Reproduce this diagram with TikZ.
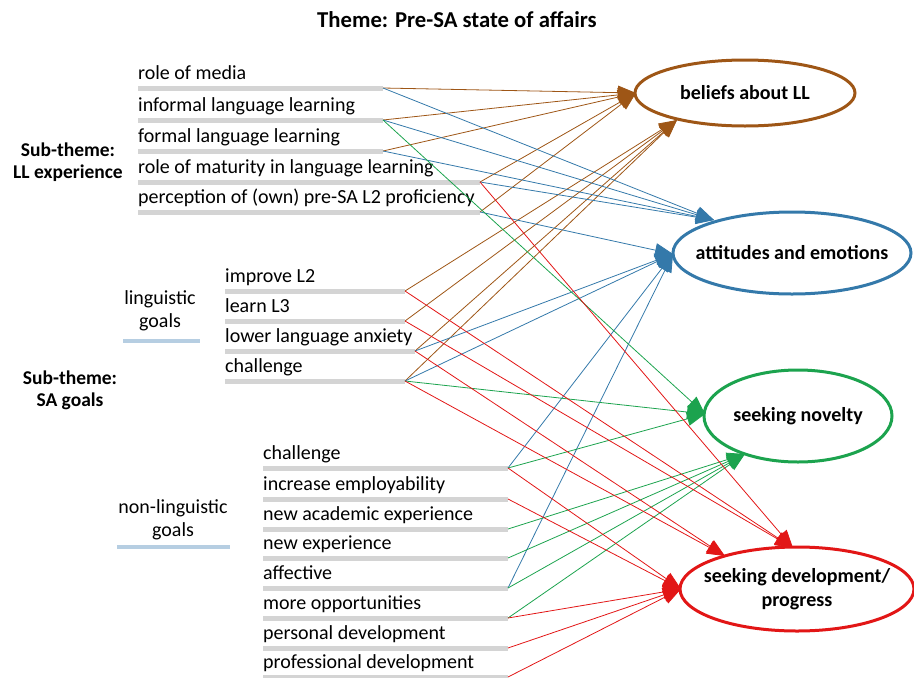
\documentclass[tikz,border=0pt]{standalone}
\usepackage{fontspec}
\setmainfont{Carlito}
\usetikzlibrary{arrows.meta,shapes.geometric}
\definecolor{cbrown}{RGB}{158,86,22}
\definecolor{cblue}{RGB}{52,121,170}
\definecolor{cgreen}{RGB}{28,163,78}
\definecolor{cred}{RGB}{226,22,22}
\definecolor{cbar}{RGB}{212,212,212}
\definecolor{cul}{RGB}{182,206,226}
\begin{document}
\begin{tikzpicture}[x=1pt,y=-1pt,
  txt/.style={anchor=base west, inner sep=0pt, font=\fontsize{20}{22}\selectfont},
  ctxt/.style={align=center, inner sep=0pt, font=\fontsize{20}{23}\selectfont},
  hdr/.style={align=center, inner sep=0pt, font=\bfseries\fontsize{19.5}{22}\selectfont},
  ttl/.style={inner sep=0pt, font=\bfseries\fontsize{22.7}{25}\selectfont},
  bar/.style={draw=cbar, line width=5pt},
  uline/.style={draw=cul, line width=4pt},
  goal/.style={ellipse, line width=3pt, inner sep=0pt},
  goaltxt/.style={inner sep=0pt, align=center, font=\bfseries\fontsize{20}{24}\selectfont},
  lnk/.style={line width=0.8pt, -{Triangle[length=18pt,width=14pt]}},
  bl/.style={lnk, cbrown},
  ul/.style={lnk, cblue},
  gl/.style={lnk, cgreen},
  rl/.style={lnk, cred}]
\useasboundingbox (0,0) rectangle (914,678);

% title and headings
\node[ttl] (title) at (457,20) {Theme: Pre-SA state of affairs};
\node[hdr] (subll) at (68,162) {Sub-theme:\\LL experience};
\node[hdr] (subsa) at (70,390) {Sub-theme:\\SA goals};
\node[ctxt] (ling) at (160,311) {linguistic\\goals};
\draw[uline] (123,341) -- (200,341);
\node[ctxt] (nonling) at (173,520) {non-linguistic\\goals};
\draw[uline] (117,547) -- (230,547);

% LL experience items
\coordinate (s1) at (383,88);  \draw[bar] (138,88) -- (s1);
\coordinate (s2) at (383,120); \draw[bar] (138,120) -- (s2);
\coordinate (s3) at (383,151); \draw[bar] (138,151) -- (s3);
\coordinate (s4) at (480,182); \draw[bar] (138,182) -- (s4);
\coordinate (s5) at (480,212); \draw[bar] (138,212) -- (s5);
\node[txt] (ts1) at (138,79)  {role of media};
\node[txt] (ts2) at (138,111) {informal language learning};
\node[txt] (ts3) at (138,142) {formal language learning};
\node[txt] (ts4) at (138,173) {role of maturity in language learning};
\node[txt] (ts5) at (138,203) {perception of (own) pre-SA L2 proficiency};

% linguistic goals
\coordinate (l1) at (405,291); \draw[bar] (225,291) -- (l1);
\coordinate (l2) at (405,321); \draw[bar] (225,321) -- (l2);
\coordinate (l3) at (415,351); \draw[bar] (225,351) -- (l3);
\coordinate (l4) at (405,381); \draw[bar] (225,381) -- (l4);
\node[txt] (tl1) at (225,282) {improve L2};
\node[txt] (tl2) at (225,312) {learn L3};
\node[txt] (tl3) at (225,342) {lower language anxiety};
\node[txt] (tl4) at (225,372) {challenge};

% non-linguistic goals
\coordinate (n1) at (508,468); \draw[bar] (263,468) -- (n1);
\coordinate (n2) at (508,499); \draw[bar] (263,499) -- (n2);
\coordinate (n3) at (508,529); \draw[bar] (263,529) -- (n3);
\coordinate (n4) at (508,558); \draw[bar] (263,558) -- (n4);
\coordinate (n5) at (508,588); \draw[bar] (263,588) -- (n5);
\coordinate (n6) at (508,618); \draw[bar] (263,618) -- (n6);
\coordinate (n7) at (508,648); \draw[bar] (263,648) -- (n7);
\coordinate (n8) at (508,677); \draw[bar] (263,677) -- (n8);
\node[txt] (tn1) at (263,459) {challenge};
\node[txt] (tn2) at (263,490) {increase employability};
\node[txt] (tn3) at (263,520) {new academic experience};
\node[txt] (tn4) at (263,549) {new experience};
\node[txt] (tn5) at (263,579) {affective};
\node[txt] (tn6) at (263,609) {more opportunities};
\node[txt] (tn7) at (263,639) {personal development};
\node[txt] (tn8) at (263,668) {professional development};

% goal ellipses
\node[goal, draw=cbrown, minimum width=220, minimum height=66] (bel) at (745,93) {};
\node[goaltxt] (belt) at (bel) {beliefs about LL};
\node[goal, draw=cblue, minimum width=238, minimum height=82] (att) at (792,253) {};
\node[goaltxt] (attt) at (att) {attitudes and emotions};
\node[goal, draw=cgreen, minimum width=188, minimum height=92] (nov) at (798,416) {};
\node[goaltxt] (novt) at (nov) {seeking novelty};
\node[goal, draw=cred, minimum width=234, minimum height=84] (dev) at (797,589) {};
\node[goaltxt] (devt) at (dev) {seeking development/\\progress};

% arrow convergence points
\coordinate (A1) at (636,93);
\coordinate (A2) at (677,120);
\coordinate (B1) at (714,220);
\coordinate (B2) at (673,254);
\coordinate (C1) at (705,414);
\coordinate (C2) at (745,454);
\coordinate (D1) at (681,589);
\coordinate (D2) at (725,556);
\coordinate (D3) at (793,548);

% brown: beliefs about LL
\draw[bl] (s1) -- (A1);
\draw[bl] (s2) -- (A1);
\draw[bl] (s3) -- (A1);
\draw[bl] (s4) -- (A1);
\draw[bl] (s5) -- (A1);
\draw[bl] (l1) -- (A2);
\draw[bl] (l2) -- (A2);
\draw[bl] (l3) -- (A2);
\draw[bl] (l4) -- (A2);

% blue: attitudes and emotions
\draw[ul] (s1) -- (B1);
\draw[ul] (s2) -- (B1);
\draw[ul] (s3) -- (B1);
\draw[ul] (s4) -- (B1);
\draw[ul] (s5) -- (B2);
\draw[ul] (l3) -- (B2);
\draw[ul] (l4) -- (B2);
\draw[ul] (n1) -- (B2);
\draw[ul] (n5) -- (B2);

% green: seeking novelty
\draw[gl] (s2) -- (C1);
\draw[gl] (l4) -- (C1);
\draw[gl] (n1) -- (C1);
\draw[gl] (n3) -- (C2);
\draw[gl] (n4) -- (C2);
\draw[gl] (n5) -- (C2);
\draw[gl] (n6) -- (C2);

% red: seeking development/progress
\draw[rl] (s4) -- (D3);
\draw[rl] (l1) -- (D3);
\draw[rl] (l2) -- (D3);
\draw[rl] (l3) -- (D2);
\draw[rl] (l4) -- (D2);
\draw[rl] (n1) -- (D1);
\draw[rl] (n2) -- (D1);
\draw[rl] (n6) -- (D1);
\draw[rl] (n7) -- (D1);
\draw[rl] (n8) -- (D1);
\end{tikzpicture}
\end{document}
